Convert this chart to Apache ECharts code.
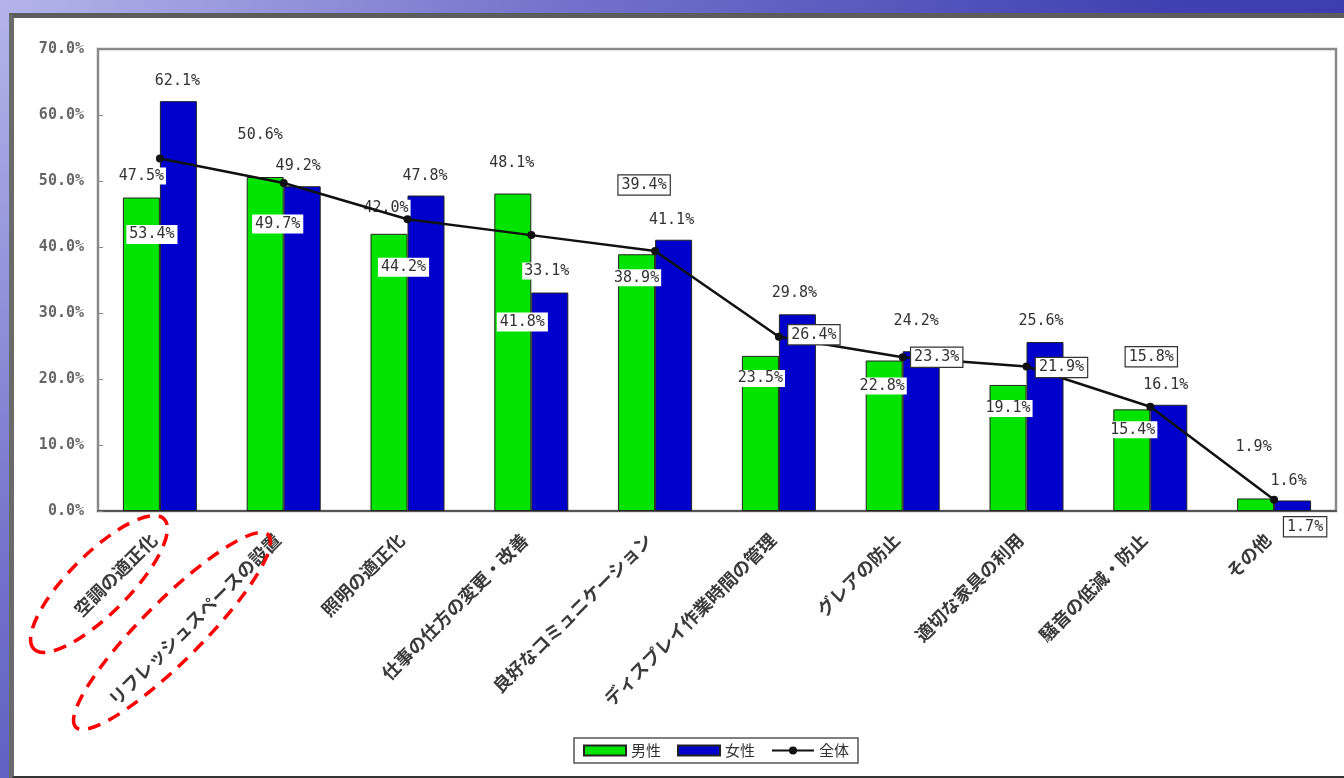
<!DOCTYPE html>
<html>
<head>
<meta charset="utf-8">
<script src="https://cdn.jsdelivr.net/npm/echarts@6/dist/echarts.min.js"></script>
<style>
  html, body { margin: 0; padding: 0; }
  body {
    width: 1344px; height: 778px; overflow: hidden; position: relative;
    background: radial-gradient(circle at 0 0, #b4b4ea 0%, #7474cc 35%, #4040b2 75%, #3a3aae 100%);
  }
  #panel {
    position: absolute; left: 9px; top: 13px; width: 1340px; height: 758px;
    background: #fff;
    border-top: 5px solid #5c5c5c; border-left: 5px solid #6a6a6a; border-bottom: 4px solid #333;
  }
  #main { position: absolute; left: 0; top: 0; width: 1344px; height: 778px; }
</style>
</head>
<body>
<div id="panel"></div>
<div id="main"></div>
<script>
// 項目
var categories = ['空調の適正化', 'リフレッシュスペースの設置', '照明の適正化', '仕事の仕方の変更・改善',
  '良好なコミュニケーション', 'ディスプレイ作業時間の管理', 'グレアの防止', '適切な家具の利用',
  '騒音の低減・防止', 'その他'];
var maleValues = [47.5, 50.6, 42.0, 48.1, 38.9, 23.5, 22.8, 19.1, 15.4, 1.9];
var femaleValues = [62.1, 49.2, 47.8, 33.1, 41.1, 29.8, 24.2, 25.6, 16.1, 1.6];
var totalValues = [53.4, 49.7, 44.2, 41.8, 39.4, 26.4, 23.3, 21.9, 15.8, 1.7];

// ラベル位置の微調整 (px)
var maleOffset = [[0, -8], [-5, -28], [-3, -12], [-1, -17], [0, 37], [0, 36], [-2, 39], [0, 37], [1, 34], [-2, -38]];
var femaleOffset = [[-1, -7], [-4, -7], [-1, -6], [-3, -8], [-2, -6], [-3, -8], [-5, -17], [-4, -7], [-3, -6], [-4, -6]];
var totalOffset = [[-8, 76], [-6, 41], [-4, 48], [-9, 87], [-11, -66], [35, -2], [34, 0], [35, 1], [1, -50], [31, 27]];
var totalBoxed = [false, false, false, false, true, true, true, true, true, true];

(function() {
  var myChart = echarts.init(document.getElementById('main'));
  var numFont = { fontFamily: 'DejaVu Sans Mono', fontSize: 15, color: '#333' };
  var fmt = function(v) { return v.toFixed(1) + '%'; };

  function barData(values, offsets) {
    return values.map(function(v, i) {
      return { value: v, label: { offset: offsets[i] } };
    });
  }

  var option = {
    backgroundColor: 'transparent',
    animation: false,
    grid: {
      left: 98, right: 8, top: 49, bottom: 267,
      show: true, borderColor: '#8a8a8a', borderWidth: 2.5
    },
    legend: {
      left: 574, top: 738,
      padding: [5, 9],
      itemGap: 16,
      itemWidth: 42, itemHeight: 10,
      borderColor: '#555', borderWidth: 1.5,
      textStyle: { fontFamily: 'Noto Sans CJK JP', fontSize: 15, color: '#333' },
      data: [{ name: '男性', icon: 'rect' }, { name: '女性', icon: 'rect' }, { name: '全体' }]
    },
    xAxis: {
      type: 'category',
      data: categories,
      axisLine: { lineStyle: { color: '#555', width: 2 } },
      axisTick: { inside: true, length: 4, lineStyle: { color: '#777' } },
      axisLabel: {
        rotate: 45, interval: 0, margin: 32,
        verticalAlign: 'bottom',
        fontFamily: 'Noto Sans CJK JP', fontSize: 18, fontWeight: 'bold', color: '#3a3a3a'
      }
    },
    yAxis: {
      type: 'value',
      min: 0, max: 70, interval: 10,
      splitLine: { show: false },
      axisLine: { show: true, lineStyle: { color: '#8a8a8a', width: 2 } },
      axisTick: { show: true, inside: true, length: 5, lineStyle: { color: '#888' } },
      axisLabel: {
        margin: 14, formatter: fmt,
        fontFamily: 'DejaVu Sans Mono', fontSize: 15, fontWeight: 'bold', color: '#666'
      }
    },
    series: [
      {
        name: '男性',
        type: 'bar',
        barWidth: 37,
        barGap: '0%',
        itemStyle: { color: '#00e400', borderColor: '#222', borderWidth: 1 },
        label: Object.assign({
          show: true, position: 'top', distance: 5, formatter: function(p) { return fmt(p.value); },
          backgroundColor: '#fff', padding: [1, 2]
        }, numFont),
        data: barData(maleValues, maleOffset)
      },
      {
        name: '女性',
        type: 'bar',
        barWidth: 37,
        itemStyle: { color: '#0000cc', borderColor: '#222', borderWidth: 1 },
        label: Object.assign({
          show: true, position: 'top', distance: 5, formatter: function(p) { return fmt(p.value); },
          backgroundColor: '#fff', padding: [1, 2]
        }, numFont),
        data: barData(femaleValues, femaleOffset)
      },
      {
        name: '全体',
        type: 'line',
        symbol: 'circle',
        symbolSize: 8,
        z: 5,
        itemStyle: { color: '#111' },
        lineStyle: { color: '#111', width: 2.5 },
        label: Object.assign({
          show: true, position: 'inside', formatter: function(p) { return fmt(p.value); },
          backgroundColor: '#fff', padding: [2, 3]
        }, numFont),
        data: totalValues.map(function(v, i) {
          return {
            value: v,
            label: {
              offset: totalOffset[i],
              borderColor: totalBoxed[i] ? '#333' : 'transparent',
              borderWidth: totalBoxed[i] ? 1.2 : 0
            }
          };
        })
      }
    ],
    graphic: [
      {
        type: 'ellipse', z: 100,
        x: 99, y: 584, rotation: Math.PI / 4,
        shape: { cx: 0, cy: 0, rx: 92, ry: 30 },
        style: { fill: 'none', stroke: '#f00', lineWidth: 3.5, lineDash: [13, 9] }
      },
      {
        type: 'ellipse', z: 100,
        x: 172, y: 631, rotation: Math.PI / 4,
        shape: { cx: 0, cy: 0, rx: 136, ry: 30 },
        style: { fill: 'none', stroke: '#f00', lineWidth: 3.5, lineDash: [13, 9] }
      }
    ]
  };

  myChart.setOption(option);
})();
</script>
</body>
</html>
